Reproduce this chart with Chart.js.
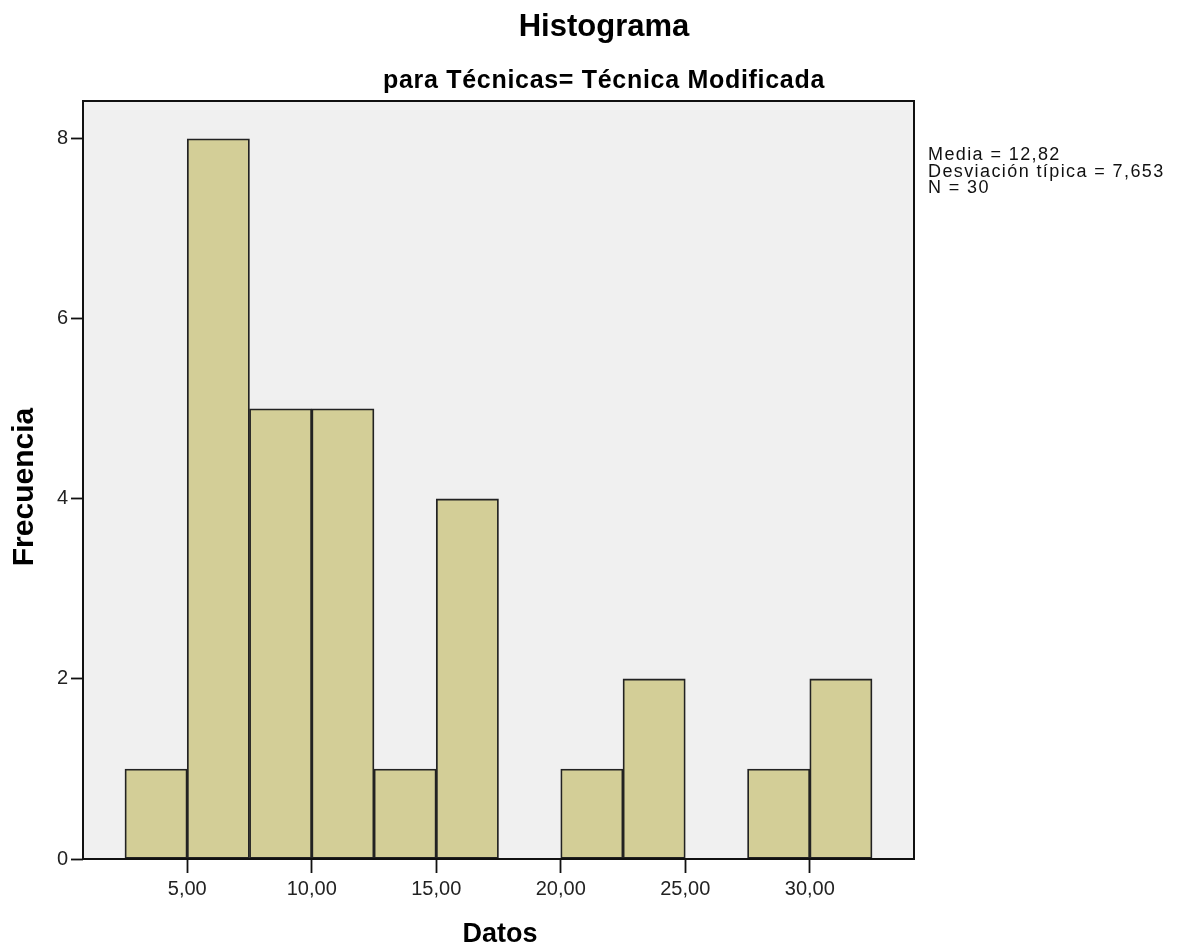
<!DOCTYPE html>
<html>
<head>
<meta charset="utf-8">
<script src="https://cdn.jsdelivr.net/npm/chart.js@4/dist/chart.umd.min.js"></script>
<style>
  html, body { margin: 0; padding: 0; background: #fff; }
  canvas { display: block; }
</style>
</head>
<body>
<canvas id="hist" width="1181" height="951"></canvas>
<script>
// histogram bins (width 2,5) and counts
const binCenters = [3.75, 6.25, 8.75, 11.25, 13.75, 16.25, 18.75, 21.25, 23.75, 26.25, 28.75, 31.25];
const frequencies = [1, 8, 5, 5, 1, 4, 0, 1, 2, 0, 1, 2];
const xTickValues = [5, 10, 15, 20, 25, 30];
const yTickValues = [0, 2, 4, 6, 8];

const titleText = 'Histograma';
const subtitleText = 'para Técnicas= Técnica Modificada';
const statLines = ['Media = 12,82', 'Desviación típica = 7,653', 'N = 30'];
const xTitle = 'Datos';
const yTitle = 'Frecuencia';

const FONT = "'Liberation Sans', Arial, sans-serif";

// grey plot background + black frame + all the loose text
const spssFrame = {
	id: 'spssFrame',
	beforeDraw(chart) {
		const {ctx, chartArea: a} = chart;
		ctx.save();
		ctx.fillStyle = '#F0F0F0';
		ctx.fillRect(a.left, a.top, a.right - a.left, a.bottom - a.top);
		ctx.restore();
	},
	afterDatasetsDraw(chart) {
		const {ctx, chartArea: a} = chart;
		ctx.save();
		ctx.strokeStyle = '#111';
		ctx.lineWidth = 2;
		ctx.strokeRect(a.left, a.top, a.right - a.left, a.bottom - a.top);

		ctx.fillStyle = '#000';
		ctx.textAlign = 'center';
		ctx.textBaseline = 'alphabetic';

		ctx.font = 'bold 31px ' + FONT;
		ctx.fillText(titleText, 604, 36);

		ctx.font = 'bold 25px ' + FONT;
		ctx.letterSpacing = '0.7px';
		ctx.fillText(subtitleText, 604, 88);
		ctx.letterSpacing = '0px';

		ctx.font = 'bold 27px ' + FONT;
		ctx.fillText(xTitle, 500, 942);

		ctx.save();
		ctx.translate(33, 487);
		ctx.rotate(-Math.PI / 2);
		ctx.font = 'bold 30px ' + FONT;
		ctx.fillText(yTitle, 0, 0);
		ctx.restore();

		ctx.textAlign = 'left';
		ctx.fillStyle = '#111';
		ctx.font = '18px ' + FONT;
		ctx.letterSpacing = '1.4px';
		statLines.forEach(function(line, i) {
			ctx.fillText(line, 928, 160 + i * 16.5);
		});
		ctx.restore();
	}
};

const ctx = document.getElementById('hist').getContext('2d');

let chart = new Chart(ctx, {
	type: 'bar',
	data: {
		datasets: [{
			data: binCenters.map(function(c, i) { return {x: c, y: frequencies[i]}; }),
			backgroundColor: '#D3CE97',
			borderColor: '#222',
			borderWidth: 1.8,
			borderSkipped: false,
			barPercentage: 1,
			categoryPercentage: 1
		}]
	},
	options: {
		responsive: false,
		animation: false,
		devicePixelRatio: 1,
		layout: {
			padding: {top: 101, right: 267, bottom: 0, left: 0}
		},
		plugins: {
			legend: {display: false},
			tooltip: {enabled: false}
		},
		scales: {
			x: {
				type: 'linear',
				offset: false,
				min: 0.815,
				max: 34.185,
				afterBuildTicks: function(scale) {
					scale.ticks = xTickValues.map(function(v) { return {value: v}; });
				},
				afterFit: function(scale) { scale.height = 92; },
				border: {display: false},
				grid: {
					offset: false,
					drawOnChartArea: false,
					drawTicks: true,
					tickLength: 14,
					tickColor: '#111',
					tickWidth: 1.8
				},
				ticks: {
					color: '#222',
					padding: 4,
					maxRotation: 0,
					font: {family: FONT, size: 20},
					callback: function(v) { return Number(v).toFixed(2).replace('.', ','); }
				}
			},
			y: {
				min: 0,
				max: 8.42,
				afterBuildTicks: function(scale) {
					scale.ticks = yTickValues.map(function(v) { return {value: v}; });
				},
				afterFit: function(scale) { scale.width = 83; },
				border: {display: false},
				grid: {
					offset: false,
					drawOnChartArea: false,
					drawTicks: true,
					tickLength: 12,
					tickColor: '#111',
					tickWidth: 1.8
				},
				ticks: {
					color: '#222',
					padding: 3,
					font: {family: FONT, size: 20}
				}
			}
		}
	},
	plugins: [spssFrame]
});
</script>
</body>
</html>
